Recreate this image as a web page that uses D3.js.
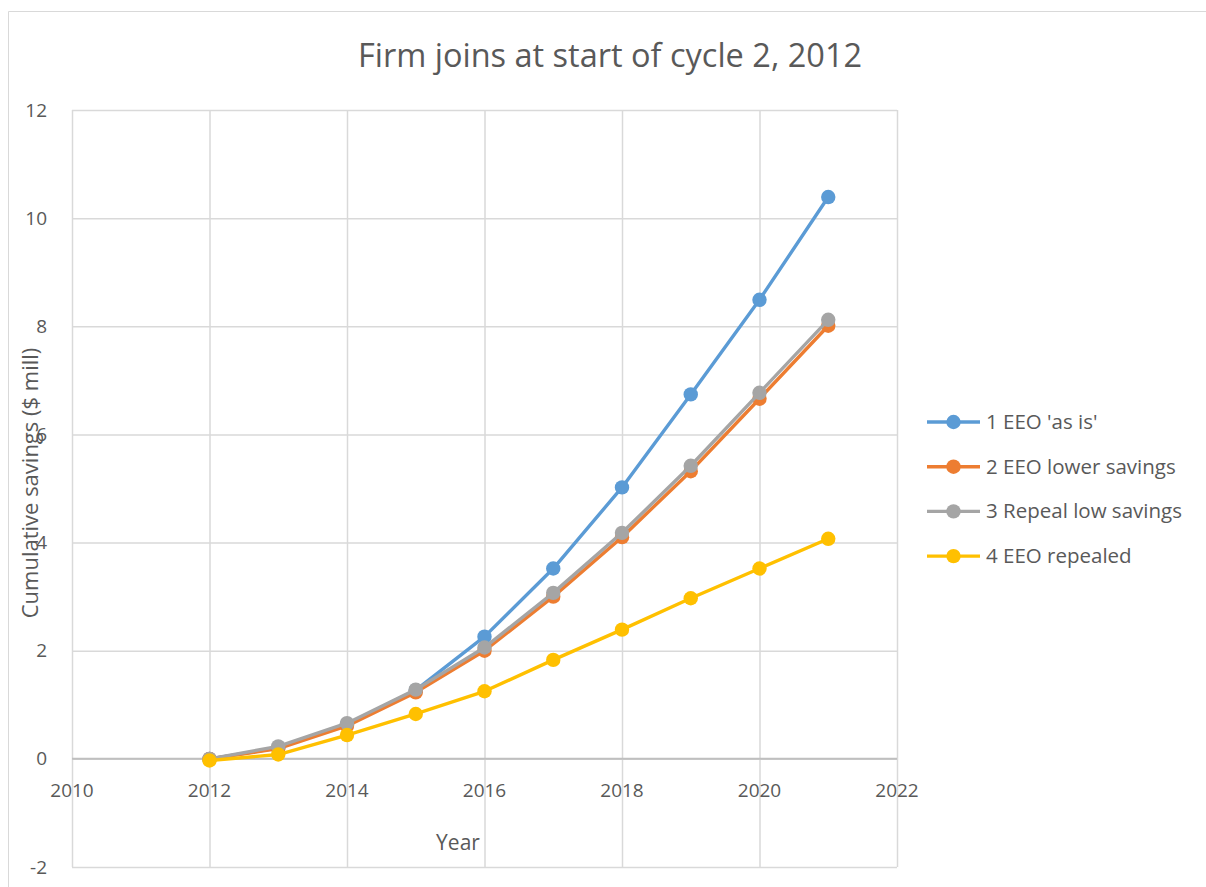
<!DOCTYPE html>
<html>
<head>
<meta charset="utf-8">
<script src="https://cdn.jsdelivr.net/npm/d3@7"></script>
<style>
  body { margin: 0; background: #fff; }
  text { font-family: "Open Sans", "DejaVu Sans", sans-serif; fill: #595959; }
</style>
</head>
<body>
<svg id="chart" width="1206" height="887"></svg>
<script>
// chart data
const years = [2012, 2013, 2014, 2015, 2016, 2017, 2018, 2019, 2020, 2021];
const seriesNames = ["1 EEO 'as is'", "2 EEO lower savings", "3 Repeal low savings", "4 EEO repealed"];
const asIs = [0, 0.2, 0.64, 1.27, 2.26, 3.52, 5.02, 6.74, 8.49, 10.39];
const lowerSavings = [0, 0.19, 0.61, 1.23, 2.0, 3.0, 4.1, 5.32, 6.66, 8.01];
const repealLow = [0, 0.23, 0.66, 1.28, 2.06, 3.07, 4.18, 5.42, 6.77, 8.12];
const repealed = [-0.03, 0.08, 0.44, 0.83, 1.25, 1.83, 2.39, 2.97, 3.52, 4.07];
const xTicks = [2010, 2012, 2014, 2016, 2018, 2020, 2022];
const yTicks = [-2, 0, 2, 4, 6, 8, 10, 12];
const colors = ["#5B9BD5", "#ED7D31", "#A5A5A5", "#FFC000"];

const svg = d3.select("#chart");

// outer chart frame (runs off the right and bottom edge like the original)
svg.append("path")
    .attr("d", "M8.5,887 V11.5 H1206")
    .attr("fill", "none")
    .attr("stroke", "#d9d9d9");

const margin = {top: 110, left: 72};
const innerWidth = 825;
const innerHeight = 757;

const xScale = d3.scaleLinear().domain([2010, 2022]).range([0, innerWidth]);
const yScale = d3.scaleLinear().domain([-2, 12]).range([innerHeight, 0]);

const g = svg.append("g")
    .attr("transform", `translate(${margin.left},${margin.top})`);

// gridlines
const xAxisG = g.append("g")
    .attr("transform", `translate(0,${innerHeight})`)
    .call(d3.axisBottom(xScale).tickValues(xTicks).tickSize(-innerHeight));
xAxisG.select(".domain").remove();
xAxisG.selectAll("text").remove();
xAxisG.selectAll("line").attr("stroke", "#d9d9d9").attr("stroke-width", 1.5);

const yAxisG = g.append("g")
    .call(d3.axisLeft(yScale).tickValues(yTicks).tickSize(-innerWidth)
        .tickPadding(25).tickFormat(d => String(d)));
yAxisG.select(".domain").remove();
yAxisG.selectAll("line").attr("stroke", "#d9d9d9").attr("stroke-width", 1.5);
yAxisG.selectAll("text")
    .attr("font-size", 19)
    .attr("fill", "#595959")
    .style("font-family", "'Open Sans', sans-serif");

// zero axis line
g.append("line")
    .attr("x1", 0).attr("x2", innerWidth)
    .attr("y1", yScale(0)).attr("y2", yScale(0))
    .attr("stroke", "#bfbfbf").attr("stroke-width", 2);

// x tick labels sit below the zero line
g.append("g").selectAll("text")
    .data(xTicks)
    .join("text")
    .attr("x", d => xScale(d))
    .attr("y", yScale(0) + 38)
    .attr("text-anchor", "middle")
    .attr("font-size", 19)
    .text(d => d);

// series
const allSeries = [asIs, lowerSavings, repealLow, repealed];
const line = d3.line()
    .x((d, i) => xScale(years[i]))
    .y(d => yScale(d));

allSeries.forEach((vals, k) => {
    g.append("path")
        .datum(vals)
        .attr("d", line)
        .attr("fill", "none")
        .attr("stroke", colors[k])
        .attr("stroke-width", 3.4)
        .attr("stroke-linejoin", "round");
    g.append("g").selectAll("circle")
        .data(vals)
        .join("circle")
        .attr("cx", (d, i) => xScale(years[i]))
        .attr("cy", d => yScale(d))
        .attr("r", 7.2)
        .attr("fill", colors[k]);
});

// title and axis titles
svg.append("text")
    .attr("x", 610).attr("y", 67)
    .attr("text-anchor", "middle")
    .attr("font-size", 32.5)
    .text("Firm joins at start of cycle 2, 2012");

svg.append("text")
    .attr("transform", "translate(38,483) rotate(-90)")
    .attr("text-anchor", "middle")
    .attr("font-size", 22)
    .text("Cumulative savings ($ mill)");

svg.append("text")
    .attr("x", 458).attr("y", 850)
    .attr("text-anchor", "middle")
    .attr("font-size", 21)
    .text("Year");

// legend
const legend = svg.append("g").attr("transform", "translate(927,422)");
seriesNames.forEach((name, k) => {
    const row = legend.append("g").attr("transform", `translate(0,${k * 44.7})`);
    row.append("line")
        .attr("x1", 0).attr("x2", 53)
        .attr("stroke", colors[k]).attr("stroke-width", 3.4);
    row.append("circle").attr("cx", 26.5).attr("r", 7.2).attr("fill", colors[k]);
    row.append("text")
        .attr("x", 59).attr("y", 7)
        .attr("font-size", 20.5)
        .text(name);
});
</script>
</body>
</html>
